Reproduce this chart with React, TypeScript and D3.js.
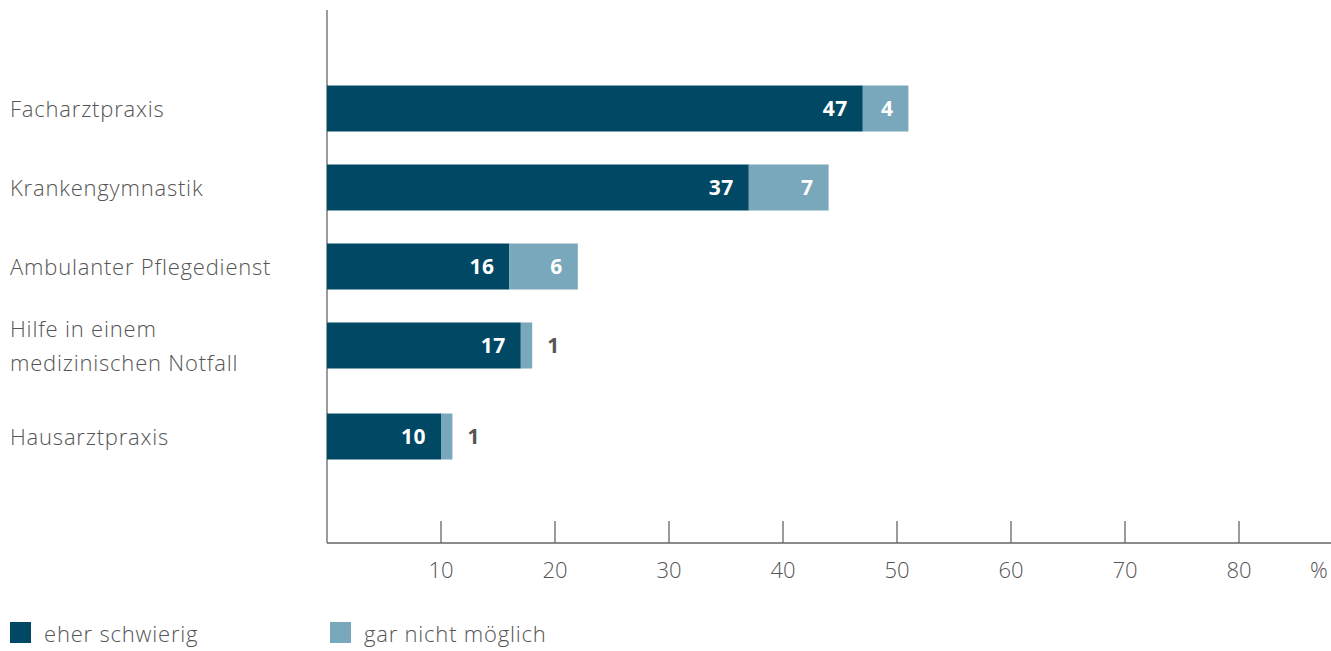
import React from "react";
import * as d3 from "d3";

const categories = ["Facharztpraxis", "Krankengymnastik", "Ambulanter Pflegedienst", "Hilfe in einem\nmedizinischen Notfall", "Hausarztpraxis"];
const eherSchwierig = [47, 37, 16, 17, 10];
const garNichtMoeglich = [4, 7, 6, 1, 1];
const seriesNames = ["eher schwierig", "gar nicht möglich"];
const xTicks = [10, 20, 30, 40, 50, 60, 70, 80];

const DARK = "#004864";
const LIGHT = "#79A7BB";
const TEXT = "#555555";
const FONT = "'Open Sans', sans-serif";

export default function App() {
  const W = 1331, H = 651;
  const x0 = 327, axisY = 543;
  const x = d3.scaleLinear().domain([0, 80]).range([x0, x0 + 912]);
  const rowStep = 79, extraPerLine = 12, firstCenter = 108.5, barH = 46;
  const centers: number[] = [];
  let c = firstCenter;
  categories.forEach((cat) => {
    centers.push(c);
    const lines = cat.split("\n").length;
    c += rowStep + (lines - 1) * extraPerLine;
  });
  const labelStyle = { fontSize: 22, fontWeight: 300, letterSpacing: 0.8 } as const;

  return (
    <svg width={W} height={H} style={{ position: "absolute", left: 0, top: 0, fontFamily: FONT }}>
      <line x1={x0} x2={x0} y1={10} y2={axisY} stroke="#666" strokeWidth={1.3} />
      <line x1={x0} x2={W} y1={axisY} y2={axisY} stroke="#666" strokeWidth={1.3} />
      {xTicks.map((t) => (
        <g key={t}>
          <line x1={x(t)} x2={x(t)} y1={521} y2={axisY} stroke="#666" strokeWidth={1.3} />
          <text x={x(t)} y={578} textAnchor="middle" fontSize={22} fontWeight={300} fill={TEXT}>{t}</text>
        </g>
      ))}
      <text x={1319} y={578} textAnchor="middle" fontSize={22} fontWeight={300} fill={TEXT}>%</text>

      {categories.map((cat, i) => {
        const cy = centers[i];
        const lines = cat.split("\n");
        const a = eherSchwierig[i], b = garNichtMoeglich[i];
        const xa = x(a), xb = x(a + b);
        const bInside = xb - xa > 30;
        return (
          <g key={cat}>
            {lines.map((l, j) => (
              <text key={j} x={10} y={cy + 8 - (lines.length - 1) * 17 + j * 34} {...labelStyle} fill={TEXT}>{l}</text>
            ))}
            <rect x={x0} y={cy - barH / 2} width={xa - x0} height={barH} fill={DARK} />
            <rect x={xa} y={cy - barH / 2} width={xb - xa} height={barH} fill={LIGHT} />
            <text x={xa - 15} y={cy + 7} textAnchor="end" fontSize={21} fontWeight={700} letterSpacing={0.5} fill="#fff">{a}</text>
            {bInside ? (
              <text x={xb - 15} y={cy + 7} textAnchor="end" fontSize={21} fontWeight={700} letterSpacing={0.5} fill="#fff">{b}</text>
            ) : (
              <text x={xb + 15} y={cy + 7} textAnchor="start" fontSize={21} fontWeight={700} letterSpacing={0.5} fill={TEXT}>{b}</text>
            )}
          </g>
        );
      })}

      {seriesNames.map((s, i) => {
        const lx = i === 0 ? 10 : 330;
        return (
          <g key={s}>
            <rect x={lx} y={622} width={21} height={21} fill={i === 0 ? DARK : LIGHT} />
            <text x={lx + 34} y={642} {...labelStyle} fill={TEXT}>{s}</text>
          </g>
        );
      })}
    </svg>
  );
}
